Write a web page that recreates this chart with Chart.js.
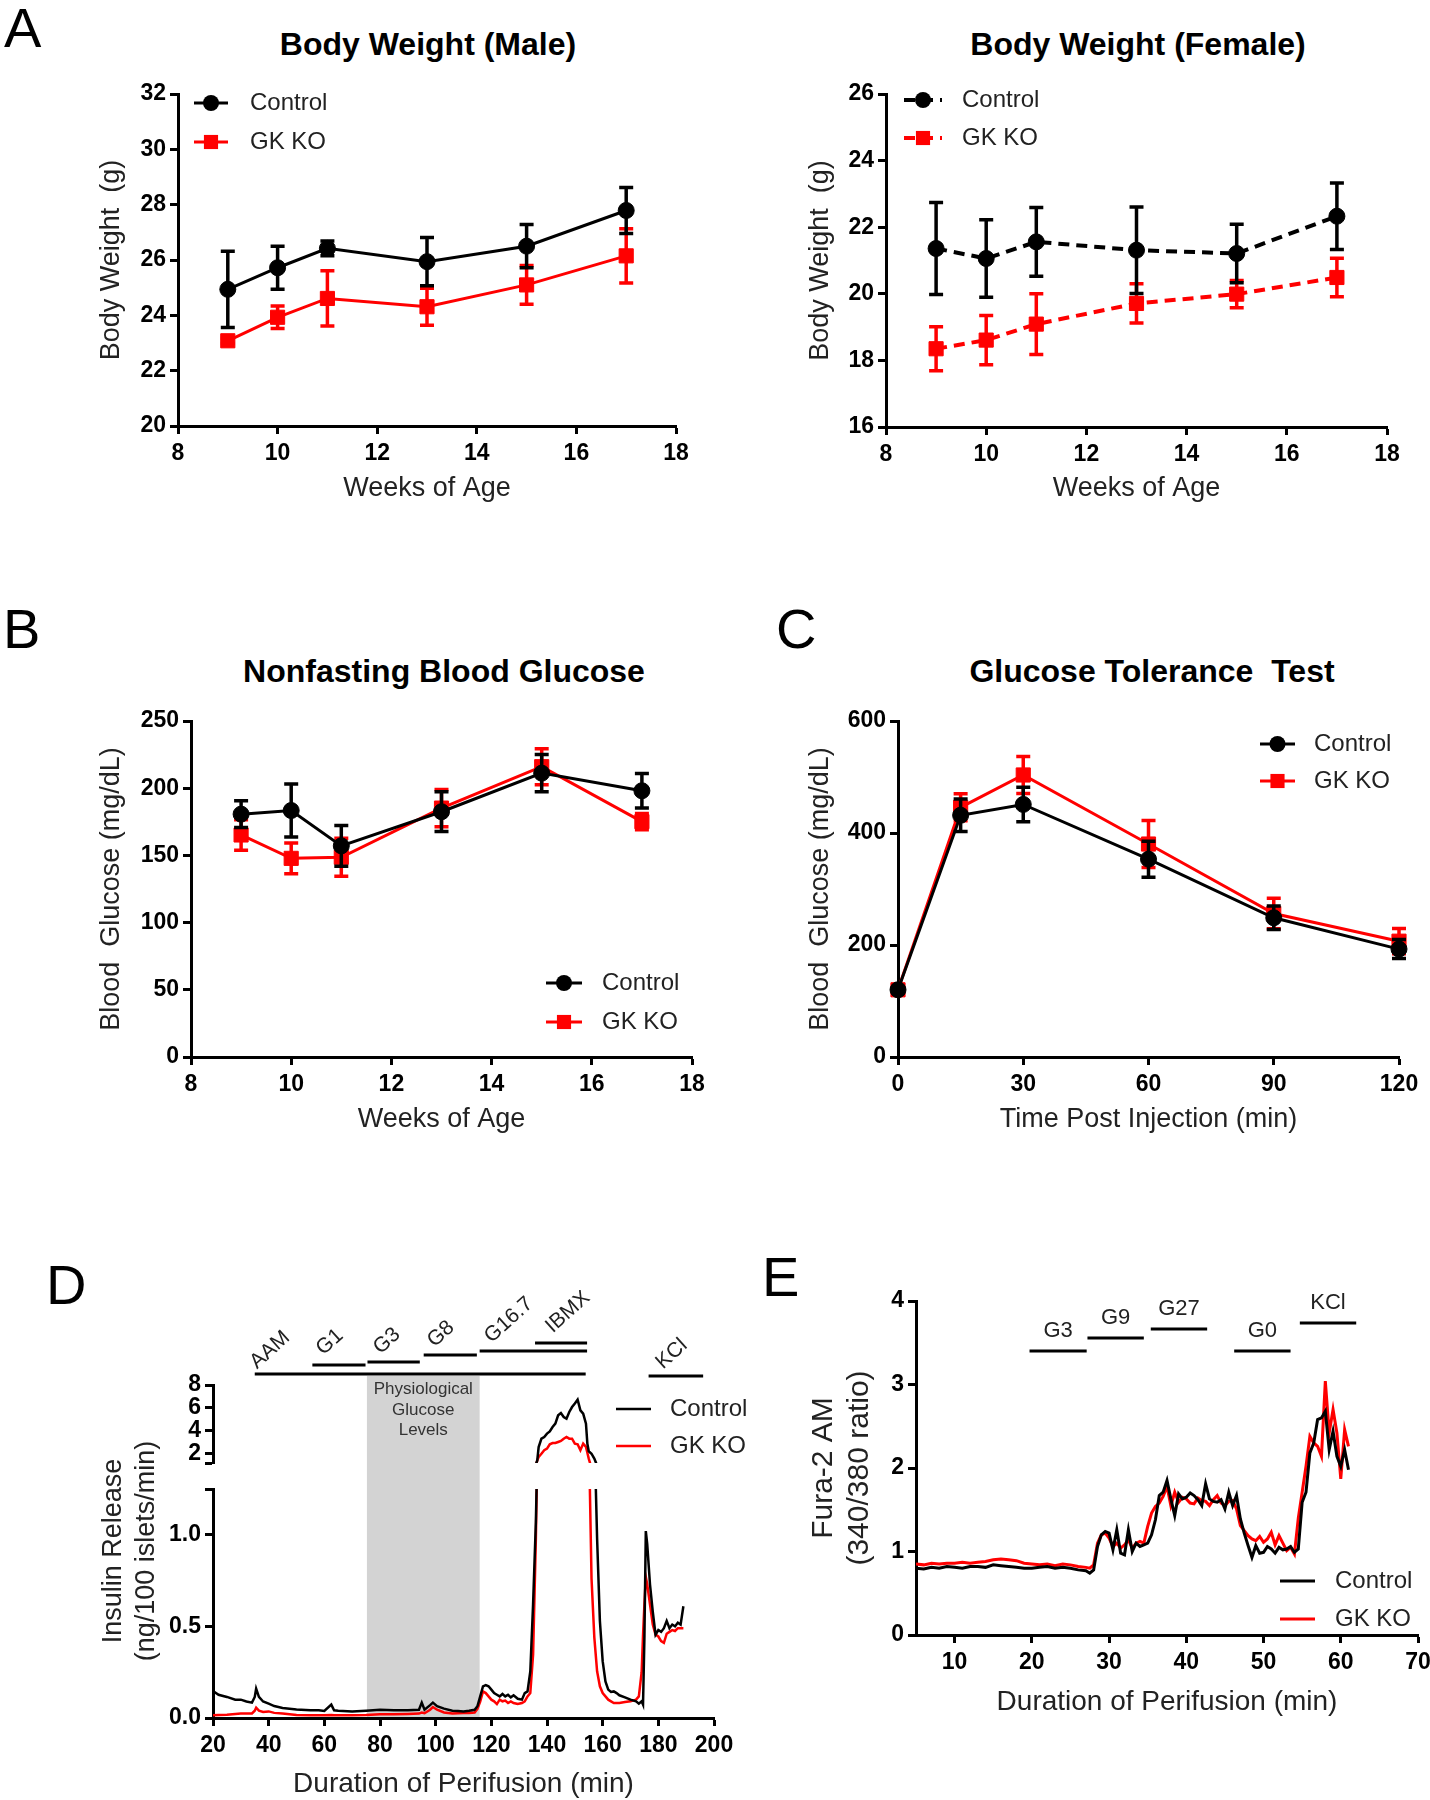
<!DOCTYPE html>
<html>
<head>
<meta charset="utf-8">
<title>GK KO phenotype</title>
<script src="https://cdn.jsdelivr.net/npm/chart.js@4.4.1/dist/chart.umd.min.js"></script>
<style>
html, body { margin:0; padding:0; background:#fff; }
#page { position:relative; width:1430px; height:1800px; overflow:hidden; background:#fff; }
#page canvas { position:absolute; }
.lbl { position:absolute; font-family:'Liberation Sans', Arial, Helvetica, sans-serif; white-space:pre; color:#000; z-index:5; }
</style>
</head>
<body>
<div id="page"></div>
<script>
// ================= DATA =================
const seriesLabels = ['Control', 'GK KO'];

// Panel A / B : weeks of age
const weeks = [9, 10, 11, 13, 15, 17];
const maleControl    = [24.94, 25.72, 26.42, 25.94, 26.50, 27.79];
const maleControlErr = [1.38, 0.78, 0.27, 0.87, 0.78, 0.83];
const maleGK         = [23.08, 23.93, 24.61, 24.31, 25.10, 26.15];
const maleGKErr      = [0.10, 0.41, 1.00, 0.67, 0.70, 0.98];
const femaleControl    = [21.36, 21.06, 21.56, 21.31, 21.21, 22.33];
const femaleControlErr = [1.38, 1.16, 1.03, 1.30, 0.88, 1.00];
const femaleGK         = [18.35, 18.61, 19.09, 19.71, 19.99, 20.49];
const femaleGKErr      = [0.66, 0.74, 0.91, 0.59, 0.41, 0.58];
const glucoseControl    = [180.7, 183.4, 157.1, 182.5, 211.2, 198.1];
const glucoseControlErr = [10.0, 19.7, 15.1, 14.8, 13.8, 12.8];
const glucoseGK         = [165.2, 147.8, 148.6, 185.2, 216.0, 175.1];
const glucoseGKErr      = [11.4, 11.4, 14.1, 13.9, 13.4, 6.0];

// Panel C : glucose tolerance test
const gttTime = [0, 15, 30, 60, 90, 120];
const gttControl    = [120.1, 431.7, 451.0, 353.3, 248.6, 192.7];
const gttControlErr = [5.0, 28.9, 30.9, 32.1, 20.9, 17.0];
const gttGK         = [120.0, 445.8, 503.6, 380.3, 256.3, 206.8];
const gttGKErr      = [5.0, 24.1, 33.1, 41.8, 27.3, 22.5];

// Panel D : insulin release perifusion (min, ng/100 islets/min)
const dTime = [
  20,22,25,28,30,32,34,35,35.5,36.5,
  38,40,42,45,50,55,58,60,62.5,63.5,
  65,70,75,80,85,90,94,95,96,98,
  99,100.5,103,106,108,110,112,114,115,116,
  117,118,119,120,121,122,123,124,125,126,
  127,128,129.5,131,132,133,134,135,136,136.5,
  137,138,139,140,141,142,143,144,145,146,
  147,148,149,150,151,152,153,154,154.5,155,
  156,157,158,159,160,161,162,163,164,165,
  166,168,170,172,173,174,174.5,175,175.5,176,
  177,178,179,180,181,182,183,184,185,186,
  187,188,189];
const dControl = [
  0.147,0.127,0.115,0.100,0.100,0.090,0.084,0.115,0.160,0.115,
  0.090,0.078,0.065,0.055,0.047,0.042,0.042,0.038,0.073,0.042,
  0.040,0.036,0.040,0.045,0.042,0.042,0.045,0.084,0.045,0.070,
  0.084,0.065,0.051,0.040,0.038,0.036,0.040,0.045,0.064,0.118,
  0.173,0.180,0.173,0.155,0.136,0.127,0.118,0.131,0.118,0.127,
  0.113,0.124,0.105,0.100,0.136,0.145,0.254,0.620,1.070,1.43,
  2.59,3.32,3.47,3.76,3.96,4.34,4.63,5.36,5.56,5.21,
  5.07,5.65,6.08,6.38,6.72,5.79,5.50,4.63,2.89,2.22,
  2.01,1.58,0.98,0.53,0.31,0.20,0.155,0.142,0.145,0.136,
  0.124,0.113,0.100,0.091,0.078,0.091,0.073,0.44,1.02,0.95,
  0.73,0.58,0.455,0.48,0.47,0.49,0.53,0.49,0.51,0.50,
  0.52,0.51,0.61];
const dGK = [
  0.015,0.017,0.018,0.022,0.024,0.024,0.025,0.040,0.056,0.040,
  0.033,0.036,0.028,0.024,0.016,0.015,0.015,0.015,0.016,0.015,
  0.015,0.015,0.016,0.020,0.020,0.022,0.024,0.030,0.026,0.045,
  0.060,0.045,0.030,0.025,0.026,0.027,0.027,0.030,0.050,0.090,
  0.145,0.136,0.118,0.100,0.091,0.076,0.100,0.091,0.095,0.082,
  0.091,0.082,0.076,0.082,0.091,0.118,0.136,0.345,0.980,1.43,
  1.72,2.01,2.31,2.45,2.83,2.94,2.94,3.03,3.12,3.32,
  3.47,3.32,3.32,2.89,2.83,2.31,2.89,2.60,2.10,1.58,
  0.76,0.44,0.255,0.173,0.136,0.118,0.100,0.091,0.082,0.082,
  0.082,0.087,0.091,0.100,0.118,0.250,0.45,0.62,0.77,0.73,
  0.62,0.51,0.455,0.445,0.42,0.41,0.46,0.47,0.48,0.475,
  0.49,0.49,0.49];
const dTreatNames = ['AAM', 'G1', 'G3', 'G8', 'G16.7', 'IBMX', 'KCl'];
const dTreatStart = [35.0, 55.7, 75.5, 95.7, 115.8, 135.7, 176.5];
const dTreatEnd   = [153.9, 74.8, 94.3, 114.8, 154.4, 154.4, 196.1];
const dBand = [75.3, 115.8];
const dBandText = ['Physiological', 'Glucose', 'Levels'];

// Panel E : Fura-2 ratio
const eTime = [
  5,6,7,8,9,10,11,12,13,14,
  15,16,17,18,19,20,21,22,23,24,
  25,26,27,27.5,28,28.5,29,29.5,30,30.5,
  31,31.5,32,32.5,33,33.5,34,34.5,35,35.5,
  36,36.5,37,37.5,38,38.5,39,39.5,40,40.5,
  41,41.5,42,42.5,43,43.5,44,44.5,45,45.5,
  46,46.5,47,47.5,48,48.5,49,49.5,50,50.5,
  51,51.5,52,52.5,53,53.5,54,54.5,55,55.5,
  56,56.5,57,57.5,58,58.5,59,59.5,60,60.5,
  61];
const eControl = [
  0.80,0.79,0.81,0.80,0.82,0.81,0.80,0.82,0.82,0.81,
  0.84,0.83,0.82,0.81,0.80,0.80,0.81,0.82,0.80,0.81,
  0.80,0.78,0.77,0.74,0.78,1.06,1.20,1.24,1.22,1.02,
  1.26,0.98,0.96,1.26,1.00,1.10,1.06,1.08,1.10,1.20,
  1.38,1.67,1.71,1.85,1.63,1.43,1.69,1.63,1.65,1.70,
  1.67,1.62,1.55,1.81,1.63,1.60,1.59,1.62,1.51,1.71,
  1.55,1.67,1.39,1.22,1.07,0.93,1.07,0.98,0.99,1.06,
  1.03,0.98,1.05,1.02,1.03,1.06,0.99,1.03,1.59,1.71,
  2.18,2.30,2.58,2.60,2.68,2.22,2.44,2.14,2.02,2.22,
  1.98];
const eGK = [
  0.85,0.84,0.86,0.85,0.86,0.86,0.87,0.86,0.87,0.88,
  0.90,0.91,0.90,0.89,0.86,0.85,0.84,0.85,0.83,0.85,
  0.84,0.82,0.81,0.80,0.84,1.10,1.20,1.22,1.16,1.06,
  1.10,1.04,1.08,1.14,1.04,1.10,1.12,1.10,1.30,1.46,
  1.54,1.58,1.66,1.78,1.55,1.71,1.59,1.65,1.63,1.58,
  1.57,1.64,1.61,1.60,1.55,1.62,1.67,1.58,1.55,1.60,
  1.61,1.51,1.31,1.25,1.19,1.15,1.13,1.18,1.11,1.15,
  1.23,1.08,1.19,1.10,1.01,1.05,0.97,1.40,1.71,2.02,
  2.38,2.30,2.26,2.14,3.04,2.42,2.70,2.42,1.87,2.46,
  2.26];
const eTreatNames = ['G3', 'G9', 'G27', 'G0', 'KCl'];
const eTreatStart = [19.7, 27.2, 35.4, 46.2, 54.7];
const eTreatEnd   = [27.1, 34.5, 42.7, 53.5, 62.0];

// Tick values
const weekTicks = [8, 10, 12, 14, 16, 18];
const maleTicks = [20, 22, 24, 26, 28, 30, 32];
const femaleTicks = [16, 18, 20, 22, 24, 26];
const glucoseTicks = [0, 50, 100, 150, 200, 250];
const gttXTicks = [0, 30, 60, 90, 120];
const gttYTicks = [0, 200, 400, 600];
const dXTicks = [20, 40, 60, 80, 100, 120, 140, 160, 180, 200];
const dUpperLabels = [2, 4, 6, 8];
const dLowerLabels = [0, 0.5, 1.0];
const eXTicks = [10, 20, 30, 40, 50, 60, 70];
const eYTicks = [0, 1, 2, 3, 4];

// ================= STYLE / HELPERS =================
const FF = "'Liberation Sans', Arial, Helvetica, sans-serif";
const BLACK = '#000000', RED = '#ff0000', TXT = '#222222';
const page = document.getElementById('page');

function txt(s, x, base, size, bold, center) {
  const d = document.createElement('div');
  d.className = 'lbl';
  d.textContent = s;
  d.style.fontSize = size + 'px';
  d.style.lineHeight = size + 'px';
  d.style.fontWeight = bold ? 'bold' : 'normal';
  d.style.top = (base - 0.8465 * size) + 'px';
  d.style.left = x + 'px';
  if (center) d.style.transform = 'translateX(-50%)';
  page.appendChild(d);
}

function mkCanvas(area, L) {
  const c = document.createElement('canvas');
  const left = area.l - L.yW, top = area.t - L.pt;
  const w = area.r + L.pr - left, h = area.b + (L.xH || 0) + (L.pb || 0) - top;
  c.width = w; c.height = h;
  c.style.left = left + 'px'; c.style.top = top + 'px';
  c.style.width = w + 'px'; c.style.height = h + 'px';
  c.style.zIndex = L.z || 1;
  c._off = {x: left, y: top};
  page.appendChild(c);
  return c;
}

function linScale(min, max, tickVals, fmt) {
  return {
    type: 'linear', min: min, max: max,
    afterBuildTicks: s => { s.ticks = tickVals.map(v => ({value: v})); },
    grid: {display: true, drawOnChartArea: false, drawTicks: true, tickLength: 8, tickWidth: 3, tickColor: '#000'},
    border: {display: true, width: 3, color: '#000'},
    ticks: {color: '#000', font: {family: FF, size: 23, weight: 'bold'}, padding: 4,
            maxRotation: 0, minRotation: 0, autoSkip: false, callback: fmt || (v => String(v))}
  };
}

function yAxis(area, L, min, max, ticks, title, titleCx, size, fmt) {
  const s = linScale(min, max, ticks, fmt);
  s.position = 'left';
  s.afterFit = sc => { sc.width = L.yW; };
  if (title) {
    const lh = size * 1.2;
    s.title = {display: true, text: title, color: TXT, font: {family: FF, size: size, lineHeight: 1.2},
               padding: {top: titleCx - (area.l - L.yW) - lh / 2, bottom: 0}};
  }
  return s;
}

function xAxis(area, L, min, max, ticks, title, titleBase, size, fmt) {
  const s = linScale(min, max, ticks, fmt);
  s.position = 'bottom';
  s.ticks.padding = 6;
  s.afterFit = sc => { sc.height = L.xH; };
  if (title) {
    const lh = size * 1.2, mid = titleBase - 0.3465 * size;
    s.title = {display: true, text: title, color: TXT, font: {family: FF, size: size, lineHeight: 1.2},
               padding: {top: 0, bottom: area.b + L.xH - lh / 2 - mid}};
  }
  return s;
}

function series(label, xs, ys, err, color, style) {
  return Object.assign({
    label: label,
    data: xs.map((x, i) => ({x: x, y: ys[i]})),
    err: err,
    borderColor: color, backgroundColor: color,
    pointBackgroundColor: color, pointBorderColor: color, pointBorderWidth: 1,
    borderWidth: 3, pointRadius: 0, tension: 0, clip: false
  }, style || {});
}
const CTRL = {pointStyle: 'circle', pointRadius: 8};
const GKS = {pointStyle: 'rect', pointRadius: 10};

function marker(ctx, style, r, x, y) {
  if (!r) return;
  ctx.beginPath();
  if (style === 'rect') { const h = r * Math.SQRT1_2; ctx.rect(x - h, y - h, 2 * h, 2 * h); }
  else ctx.arc(x, y, r, 0, Math.PI * 2);
  ctx.fill();
}

const errorBars = {
  id: 'errorBars',
  afterDatasetDraw(chart, args) {
    const ds = chart.data.datasets[args.index];
    if (!ds.err) return;
    const meta = args.meta, ctx = chart.ctx, ys = meta.yScale;
    ctx.save();
    ctx.strokeStyle = ds.borderColor; ctx.lineWidth = 3.5; ctx.setLineDash([]);
    meta.data.forEach((pt, i) => {
      const v = ds.data[i].y, e = ds.err[i];
      const yt = ys.getPixelForValue(v + e), yb = ys.getPixelForValue(v - e), x = pt.x;
      ctx.beginPath();
      ctx.moveTo(x, yt); ctx.lineTo(x, yb);
      ctx.moveTo(x - 7, yt); ctx.lineTo(x + 7, yt);
      ctx.moveTo(x - 7, yb); ctx.lineTo(x + 7, yb);
      ctx.stroke();
    });
    ctx.restore();
  }
};

const customLegend = {
  id: 'customLegend',
  afterDraw(chart, args, opts) {
    const items = opts.items || [];
    const ctx = chart.ctx, off = chart.canvas._off;
    items.forEach(it => {
      const ds = chart.data.datasets[it.ds];
      const y = it.y - off.y, x1 = it.x1 - off.x, x2 = it.x2 - off.x;
      ctx.save();
      ctx.strokeStyle = ds.borderColor; ctx.fillStyle = ds.borderColor;
      ctx.lineWidth = ds.borderWidth;
      ctx.setLineDash(ds.borderDash || []);
      ctx.beginPath(); ctx.moveTo(x1, y); ctx.lineTo(x2, y); ctx.stroke();
      ctx.setLineDash([]);
      marker(ctx, ds.pointStyle, ds.pointRadius, (x1 + x2) / 2, y);
      ctx.fillStyle = TXT; ctx.font = '24px ' + FF;
      ctx.textBaseline = 'middle'; ctx.textAlign = 'left';
      ctx.fillText(ds.label, it.tx - off.x, y);
      ctx.restore();
    });
  }
};

function chartAt(area, L, cfg, plugins, pluginOpts) {
  const c = mkCanvas(area, L);
  cfg.options.responsive = false;
  cfg.options.animation = false;
  cfg.options.devicePixelRatio = 1;
  cfg.options.events = [];
  cfg.options.layout = {autoPadding: false, padding: {left: 0, top: L.pt, right: L.pr, bottom: L.pb || 0}};
  cfg.options.plugins = Object.assign({legend: {display: false}, tooltip: {enabled: false}, title: {display: false}}, pluginOpts || {});
  cfg.plugins = plugins || [];
  return new Chart(c.getContext('2d'), cfg);
}

// ================= PANEL LETTERS & TITLES =================
txt('A', 4, 47, 56);
txt('B', 3, 648, 56);
txt('C', 776, 648, 56);
txt('D', 46, 1304, 56);
txt('E', 762, 1296, 56);
txt('Body Weight (Male)', 428, 55, 32, true, true);
txt('Body Weight (Female)', 1138, 55, 32, true, true);
txt('Nonfasting Blood Glucose', 444, 682, 32, true, true);
txt('Glucose Tolerance  Test', 1152, 682, 32, true, true);

// ================= PANEL A (male) =================
(function () {
  const area = {l: 178, r: 676, t: 94, b: 426};
  const L = {yW: 100, xH: 90, pt: 20, pr: 30};
  chartAt(area, L, {
    type: 'line',
    data: {datasets: [
      series(seriesLabels[0], weeks, maleControl, maleControlErr, BLACK, CTRL),
      series(seriesLabels[1], weeks, maleGK, maleGKErr, RED, GKS)]},
    options: {scales: {
      x: xAxis(area, L, 8, 18, weekTicks, 'Weeks of Age', 498, 27),
      y: yAxis(area, L, 20, 32, maleTicks, 'Body Weight  (g)', 112, 27)}}
  }, [errorBars, customLegend], {customLegend: {items: [
    {ds: 0, x1: 194, x2: 228, y: 103, tx: 250},
    {ds: 1, x1: 194, x2: 228, y: 142, tx: 250}]}});
})();

// ================= PANEL A (female) =================
(function () {
  const area = {l: 886, r: 1387, t: 94, b: 427};
  const L = {yW: 100, xH: 90, pt: 20, pr: 30};
  const dash = {borderDash: [11, 7], borderWidth: 4};
  chartAt(area, L, {
    type: 'line',
    data: {datasets: [
      series(seriesLabels[0], weeks, femaleControl, femaleControlErr, BLACK, Object.assign({}, CTRL, dash)),
      series(seriesLabels[1], weeks, femaleGK, femaleGKErr, RED, Object.assign({}, GKS, dash))]},
    options: {scales: {
      x: xAxis(area, L, 8, 18, weekTicks, 'Weeks of Age', 498, 27),
      y: yAxis(area, L, 16, 26, femaleTicks, 'Body Weight  (g)', 821, 27)}}
  }, [errorBars, customLegend], {customLegend: {items: [
    {ds: 0, x1: 904, x2: 942, y: 100, tx: 962},
    {ds: 1, x1: 904, x2: 942, y: 138, tx: 962}]}});
})();

// ================= PANEL B =================
(function () {
  const area = {l: 191, r: 692, t: 721, b: 1057};
  const L = {yW: 110, xH: 90, pt: 20, pr: 30};
  chartAt(area, L, {
    type: 'line',
    data: {datasets: [
      series(seriesLabels[0], weeks, glucoseControl, glucoseControlErr, BLACK, CTRL),
      series(seriesLabels[1], weeks, glucoseGK, glucoseGKErr, RED, GKS)]},
    options: {scales: {
      x: xAxis(area, L, 8, 18, weekTicks, 'Weeks of Age', 1129, 27),
      y: yAxis(area, L, 0, 250, glucoseTicks, 'Blood  Glucose (mg/dL)', 112, 27)}}
  }, [errorBars, customLegend], {customLegend: {items: [
    {ds: 0, x1: 546, x2: 582, y: 983, tx: 602},
    {ds: 1, x1: 546, x2: 582, y: 1022, tx: 602}]}});
})();

// ================= PANEL C =================
(function () {
  const area = {l: 898, r: 1399, t: 721, b: 1057};
  const L = {yW: 110, xH: 90, pt: 20, pr: 30};
  chartAt(area, L, {
    type: 'line',
    data: {datasets: [
      series(seriesLabels[0], gttTime, gttControl, gttControlErr, BLACK, CTRL),
      series(seriesLabels[1], gttTime, gttGK, gttGKErr, RED, GKS)]},
    options: {scales: {
      x: xAxis(area, L, 0, 120, gttXTicks, 'Time Post Injection (min)', 1129, 27),
      y: yAxis(area, L, 0, 600, gttYTicks, 'Blood  Glucose (mg/dL)', 821, 27)}}
  }, [errorBars, customLegend], {customLegend: {items: [
    {ds: 0, x1: 1260, x2: 1295, y: 744, tx: 1314},
    {ds: 1, x1: 1260, x2: 1295, y: 781, tx: 1314}]}});
})();

// ================= PANEL D (broken axis: two stacked charts) =================
const dLine = {borderWidth: 2.5, pointRadius: 0};
function dSets() {
  const a = series(seriesLabels[0], dTime, dControl, null, BLACK, dLine);
  const b = series(seriesLabels[1], dTime, dGK, null, RED, dLine);
  delete a.clip; delete b.clip;
  return [a, b];
}
// lower segment (0 - 1.25) with x axis, shaded band and y title
(function () {
  const area = {l: 213, r: 714, t: 1489, b: 1718};
  const L = {yW: 130, xH: 85, pt: 120, pr: 30, z: 1};
  const bandPlugin = {
    id: 'dBand',
    beforeDraw(chart) {
      const ctx = chart.ctx, off = chart.canvas._off, xs = chart.scales.x;
      const x1 = xs.getPixelForValue(dBand[0]), x2 = xs.getPixelForValue(dBand[1]);
      const top = 1376 - off.y;
      ctx.save();
      ctx.fillStyle = '#d3d3d3';
      ctx.fillRect(x1, top, x2 - x1, chart.chartArea.bottom - top);
      ctx.fillStyle = '#333';
      ctx.font = '17px ' + FF; ctx.textAlign = 'center'; ctx.textBaseline = 'middle';
      const cx = (x1 + x2) / 2;
      [1389, 1410, 1430].forEach((y, i) => ctx.fillText(dBandText[i], cx, y - off.y));
      ctx.restore();
    },
    afterDraw(chart) {
      const ctx = chart.ctx, off = chart.canvas._off;
      ctx.save();
      ctx.fillStyle = TXT; ctx.font = '27px ' + FF; ctx.textAlign = 'center'; ctx.textBaseline = 'middle';
      [['Insulin Release', 114], ['(ng/100 islets/min)', 147]].forEach(([s, x]) => {
        ctx.save();
        ctx.translate(x - off.x, 1551 - off.y);
        ctx.rotate(-Math.PI / 2);
        ctx.fillText(s, 0, 0);
        ctx.restore();
      });
      ctx.restore();
    }
  };
  chartAt(area, L, {
    type: 'line',
    data: {datasets: dSets()},
    options: {scales: {
      x: xAxis(area, L, 20, 200, dXTicks, 'Duration of Perifusion (min)', 1794, 28),
      y: yAxis(area, L, 0, 1.25, [0, 0.5, 1.0, 1.25], null, 0, 27,
               v => dLowerLabels.includes(v) ? v.toFixed(1) : '')}}
  }, [bandPlugin]);
})();
// upper segment (1.2 - 8) with treatment bars and legend
(function () {
  const area = {l: 213, r: 714, t: 1385, b: 1463};
  const L = {yW: 130, xH: 0, pt: 95, pr: 70, pb: 20, z: 2};
  const barY = [1374, 1365, 1362, 1355, 1351, 1343, 1376];
  const lblX = [40.5, 62.0, 82.5, 101.9, 126.3, 147.5, 184.8];
  const lblY = [1350, 1342, 1341, 1334, 1320, 1312, 1354];
  const treatPlugin = {
    id: 'dTreat',
    afterDraw(chart) {
      const ctx = chart.ctx, off = chart.canvas._off, xs = chart.scales.x;
      ctx.save();
      ctx.strokeStyle = '#000'; ctx.lineWidth = 3;
      dTreatNames.forEach((n, i) => {
        const y = barY[i] - off.y;
        ctx.beginPath();
        ctx.moveTo(xs.getPixelForValue(dTreatStart[i]), y);
        ctx.lineTo(xs.getPixelForValue(dTreatEnd[i]), y);
        ctx.stroke();
        ctx.save();
        ctx.translate(xs.getPixelForValue(lblX[i]), lblY[i] - off.y);
        ctx.rotate(-42 * Math.PI / 180);
        ctx.fillStyle = TXT; ctx.font = '21px ' + FF;
        ctx.textAlign = 'center'; ctx.textBaseline = 'middle';
        ctx.fillText(n, 0, 0);
        ctx.restore();
      });
      ctx.restore();
    }
  };
  const xs = linScale(20, 200, dXTicks);
  xs.display = false;
  chartAt(area, L, {
    type: 'line',
    data: {datasets: dSets()},
    options: {scales: {
      x: xs,
      y: yAxis(area, L, 1.2, 8, [1.2, 2, 4, 6, 8], null, 0, 27,
               v => dUpperLabels.includes(v) ? String(v) : '')}}
  }, [treatPlugin, customLegend], {customLegend: {items: [
    {ds: 0, x1: 616, x2: 651, y: 1409, tx: 670},
    {ds: 1, x1: 616, x2: 651, y: 1446, tx: 670}]}});
})();

// ================= PANEL E =================
(function () {
  const area = {l: 916, r: 1418, t: 1301, b: 1635};
  const L = {yW: 126, xH: 90, pt: 20, pr: 30};
  const barY = [1351, 1338, 1329, 1351, 1323];
  const treatPlugin = {
    id: 'eTreat',
    afterDraw(chart) {
      const ctx = chart.ctx, off = chart.canvas._off, xs = chart.scales.x;
      ctx.save();
      ctx.strokeStyle = '#000'; ctx.lineWidth = 3;
      ctx.fillStyle = TXT; ctx.font = '22px ' + FF;
      ctx.textAlign = 'center'; ctx.textBaseline = 'alphabetic';
      eTreatNames.forEach((n, i) => {
        const y = barY[i] - off.y;
        const x1 = xs.getPixelForValue(eTreatStart[i]), x2 = xs.getPixelForValue(eTreatEnd[i]);
        ctx.beginPath(); ctx.moveTo(x1, y); ctx.lineTo(x2, y); ctx.stroke();
        ctx.fillText(n, (x1 + x2) / 2, y - 14);
      });
      ctx.restore();
    }
  };
  const a = series(seriesLabels[0], eTime, eControl, null, BLACK, {borderWidth: 3});
  const b = series(seriesLabels[1], eTime, eGK, null, RED, {borderWidth: 3});
  delete a.clip; delete b.clip;
  chartAt(area, L, {
    type: 'line',
    data: {datasets: [a, b]},
    options: {scales: {
      x: xAxis(area, L, 5, 70, eXTicks, 'Duration of Perifusion (min)', 1712, 28),
      y: yAxis(area, L, 0, 4, eYTicks, ['Fura-2 AM', '(340/380 ratio)'], 824, 30)}}
  }, [treatPlugin, customLegend], {customLegend: {items: [
    {ds: 0, x1: 1280, x2: 1315, y: 1581, tx: 1335},
    {ds: 1, x1: 1280, x2: 1315, y: 1619, tx: 1335}]}});
})();
</script>
</body>
</html>
